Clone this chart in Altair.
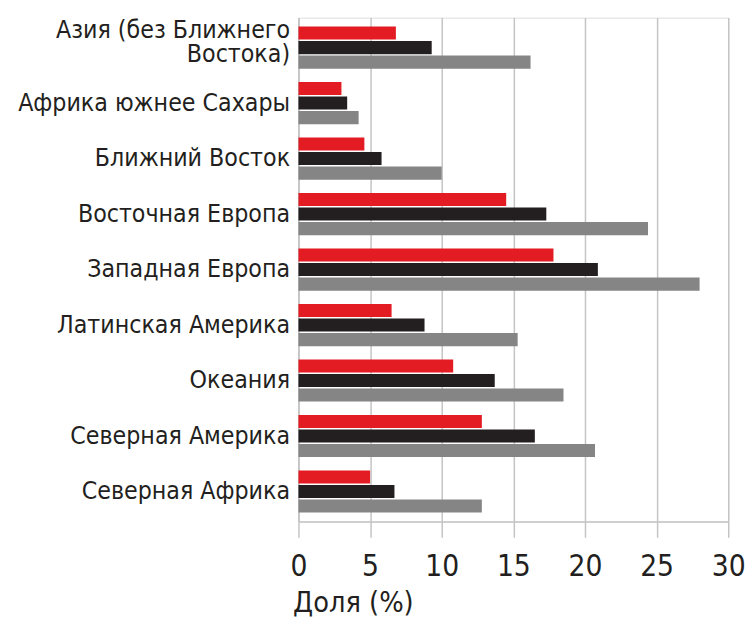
import altair as alt
import pandas as pd

categories = [
    "Азия (без Ближнего Востока)",
    "Африка южнее Сахары",
    "Ближний Восток",
    "Восточная Европа",
    "Западная Европа",
    "Латинская Америка",
    "Океания",
    "Северная Америка",
    "Северная Африка",
]
series_names = ["s1", "s2", "s3"]
series_colors = ["#e31b23", "#231f20", "#858585"]
red_vals = [6.8, 3.0, 4.6, 14.5, 17.8, 6.5, 10.8, 12.8, 5.0]
black_vals = [9.3, 3.4, 5.8, 17.3, 20.9, 8.8, 13.7, 16.5, 6.7]
gray_vals = [16.2, 4.2, 10.0, 24.4, 28.0, 15.3, 18.5, 20.7, 12.8]
x_ticks = [0, 5, 10, 15, 20, 25, 30]

rows = []
for name, vals in zip(series_names, [red_vals, black_vals, gray_vals]):
    for c, v in zip(categories, vals):
        rows.append({"region": c, "series": name, "value": v})
df = pd.DataFrame(rows)

FONT = "DejaVu Sans Condensed, Liberation Sans, sans-serif"
GRID = "#c4c4c4"
ASIA = "Азия (без Ближнего Востока)"

label_expr = (
    f"datum.value == '{ASIA}' ? "
    "['Азия (без Ближнего', 'Востока)'] : datum.value"
)

chart = (
    alt.Chart(df)
    .mark_bar()
    .encode(
        x=alt.X(
            "value:Q",
            scale=alt.Scale(domain=[0, 30], nice=False),
            axis=alt.Axis(
                values=x_ticks,
                title="Доля (%)",
                titleFont=FONT,
                titleFontSize=29,
                titleFontWeight="normal",
                titleColor="#231f20",
                titleAnchor="start",
                titleAlign="left",
                titleX=-6,
                titleY=91,
                titleBaseline="alphabetic",
                labelFont=FONT,
                labelFontSize=30,
                labelColor="#231f20",
                labelBaseline="top",
                labelPadding=15,
                tickSize=16,
                tickColor=GRID,
                tickWidth=1.5,
                domainColor=GRID,
                domainWidth=1.5,
                grid=True,
                gridColor=GRID,
                gridWidth=1.5,
                labelFlush=False,
                labelOverlap=False,
            ),
        ),
        y=alt.Y(
            "region:N",
            sort=categories,
            scale=alt.Scale(paddingInner=0.24, paddingOuter=0.16),
            axis=alt.Axis(
                title=None,
                labelExpr=label_expr,
                labelFont=FONT,
                labelFontSize=25,
                labelLineHeight=25,
                labelColor="#231f20",
                labelAlign="right",
                labelPadding=9,
                labelLimit=400,
                labelOffset={
                    "condition": {"test": f"datum.value == '{ASIA}'", "value": -18},
                    "value": 0,
                },
                ticks=False,
                domainColor=GRID,
                domainWidth=1.5,
            ),
        ),
        yOffset=alt.YOffset(
            "series:N",
            sort=series_names,
            scale=alt.Scale(paddingInner=0.1),
        ),
        color=alt.Color(
            "series:N",
            scale=alt.Scale(domain=series_names, range=series_colors),
            legend=None,
        ),
    )
    .properties(
        width=435,
        height=510,
        autosize=alt.AutoSizeParams(type="none"),
        padding={"left": 294, "top": 6, "right": 20, "bottom": 98},
    )
    .configure_view(stroke=GRID, strokeWidth=1.5)
    .configure(background="white")
)

chart.save("out.html", embed_options={"renderer": "svg", "actions": False})
